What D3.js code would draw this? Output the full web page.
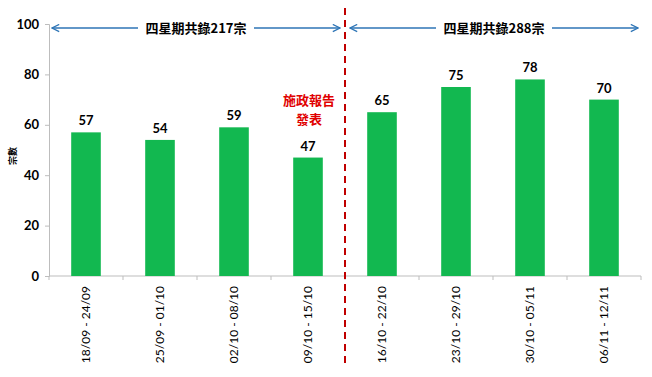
<!DOCTYPE html>
<html>
<head>
<meta charset="utf-8">
<script src="https://d3js.org/d3.v7.min.js"></script>
<style>
body{margin:0;background:#fff;}
text{font-family:"Lato","DejaVu Sans",sans-serif;}
.cjk{font-family:"Noto Sans CJK TC",sans-serif;}
</style>
</head>
<body>
<div id="chart"></div>
<script>
var w = 652;
var h = 377;
var weeks = ["18/09 - 24/09","25/09 - 01/10","02/10 - 08/10","09/10 - 15/10",
             "16/10 - 22/10","23/10 - 29/10","30/10 - 05/11","06/11 - 12/11"];
var cases = [57,54,59,47,65,75,78,70];
var yTicks = [0,20,40,60,80,100];
var periodLabels = ["四星期共錄217宗","四星期共錄288宗"];
var noteLines = ["施政報告","發表"];

var plotL = 49, plotR = 641, plotT = 24, plotB = 276;

var xScale = d3.scaleBand().domain(weeks).range([plotL, plotR]).paddingInner(0.6).paddingOuter(0.3);
var xEdge = d3.scaleLinear().domain([0, weeks.length]).range([plotL, plotR]);
var yScale = d3.scaleLinear().domain([0,100]).range([plotB, plotT]);

var svg = d3.select("#chart").append("svg").attr("width", w).attr("height", h);

var defs = svg.append("defs");
defs.append("marker").attr("id","arr").attr("viewBox","0 0 10 10")
  .attr("refX",9).attr("refY",5).attr("markerWidth",9).attr("markerHeight",9)
  .attr("orient","auto-start-reverse").attr("markerUnits","userSpaceOnUse")
  .append("path").attr("d","M1,1 L9,5 L1,9").attr("fill","none")
  .attr("stroke","#2e75b6").attr("stroke-width",1.4);

// y axis
var yAxis = svg.append("g").attr("transform","translate(" + plotL + ",0)")
  .call(d3.axisLeft(yScale).tickValues(yTicks).tickSize(4).tickPadding(6));
yAxis.selectAll("path,line").attr("stroke","#bdbdbd");
yAxis.selectAll("text").attr("font-size",13).attr("font-weight","bold").attr("fill","#000");

// x axis with ticks at band edges
var xg = svg.append("g").attr("transform","translate(0," + plotB + ")");
xg.append("line").attr("x1",plotL).attr("x2",plotR).attr("stroke","#bdbdbd");
xg.selectAll(".tk").data(d3.range(weeks.length + 1)).enter().append("line")
  .attr("x1", function(i){return xEdge(i);}).attr("x2", function(i){return xEdge(i);})
  .attr("y1",0).attr("y2",4).attr("stroke","#bdbdbd");
xg.selectAll(".lb").data(weeks).enter().append("text")
  .attr("transform", function(d){return "translate(" + (xScale(d) + xScale.bandwidth()/2 + 4) + ",10) rotate(-90)";})
  .attr("text-anchor","end").attr("font-size",12).attr("fill","#000").text(function(d){return d;});

// y title
svg.append("text").attr("class","cjk")
  .attr("transform","translate(16,156) rotate(-90)")
  .attr("text-anchor","middle").attr("font-size",9).attr("font-weight","bold").text("宗數");

// bars
svg.selectAll(".bar").data(cases).enter().append("rect")
  .attr("x", function(d,i){return xScale(weeks[i]);})
  .attr("y", function(d){return yScale(d);})
  .attr("width", xScale.bandwidth())
  .attr("height", function(d){return plotB - yScale(d);})
  .attr("fill","#12b850");

svg.selectAll(".val").data(cases).enter().append("text")
  .attr("x", function(d,i){return xScale(weeks[i]) + xScale.bandwidth()/2;})
  .attr("y", function(d){return yScale(d) - 7;})
  .attr("text-anchor","middle").attr("font-size",13).attr("font-weight","bold")
  .text(function(d){return d;});

// divider
var mid = xEdge(4);
svg.append("line").attr("x1",mid).attr("x2",mid).attr("y1",8).attr("y2",368)
  .attr("stroke","#c00000").attr("stroke-width",2).attr("stroke-dasharray","7,5");

// period arrows
var spans = [[xEdge(0)+3, mid-5],[mid+5, xEdge(8)-3]];
var arrowY = 28;
spans.forEach(function(s, i){
  var c = (s[0]+s[1])/2;
  var half = 58;
  svg.append("line").attr("x1",c-half).attr("x2",s[0]).attr("y1",arrowY).attr("y2",arrowY)
    .attr("stroke","#2e75b6").attr("stroke-width",1.4).attr("marker-end","url(#arr)");
  svg.append("line").attr("x1",c+half).attr("x2",s[1]).attr("y1",arrowY).attr("y2",arrowY)
    .attr("stroke","#2e75b6").attr("stroke-width",1.4).attr("marker-end","url(#arr)");
  svg.append("text").attr("class","cjk").attr("x",c).attr("y",arrowY+5)
    .attr("text-anchor","middle").attr("font-size",13).attr("font-weight","bold")
    .text(periodLabels[i]);
});

// note
svg.selectAll(".note").data(noteLines).enter().append("text").attr("class","cjk")
  .attr("x", xScale(weeks[3]) + xScale.bandwidth()/2 + 1)
  .attr("y", function(d,i){return 105 + i*19;})
  .attr("text-anchor","middle").attr("font-size",13).attr("font-weight","bold")
  .attr("fill","#e00000").text(function(d){return d;});
</script>
</body>
</html>
